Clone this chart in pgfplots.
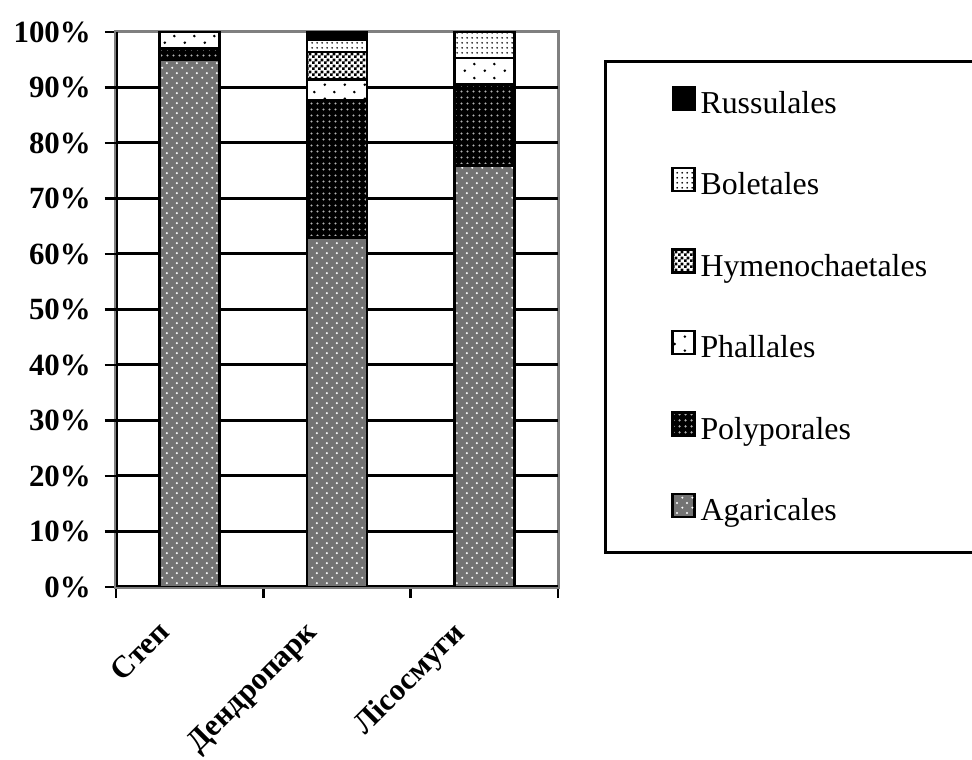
\documentclass[border=0pt]{standalone}
\usepackage{fontspec}
\setmainfont{Liberation Serif}
\usepackage{pgfplots}
\pgfplotsset{compat=1.18}
\usetikzlibrary{patterns}

\pgfdeclarepatternformonly{agdots}{\pgfqpoint{0bp}{0bp}}{\pgfqpoint{10bp}{10bp}}{\pgfqpoint{10bp}{10bp}}{%
  \pgfpathcircle{\pgfqpoint{2.5bp}{2.5bp}}{1.2bp}%
  \pgfpathcircle{\pgfqpoint{7.5bp}{7.5bp}}{1.2bp}%
  \pgfusepath{fill}}
\pgfdeclarepatternformonly{poldots}{\pgfqpoint{0bp}{0bp}}{\pgfqpoint{5.5bp}{5.5bp}}{\pgfqpoint{5.5bp}{5.5bp}}{%
  \pgfpathcircle{\pgfqpoint{2.75bp}{2.75bp}}{1.3bp}%
  \pgfusepath{fill}}
\pgfdeclarepatternformonly{phdots}{\pgfqpoint{0bp}{0bp}}{\pgfqpoint{20bp}{14bp}}{\pgfqpoint{20bp}{14bp}}{%
  \pgfpathcircle{\pgfqpoint{5bp}{3.5bp}}{1.5bp}%
  \pgfpathcircle{\pgfqpoint{15bp}{10.5bp}}{1.5bp}%
  \pgfusepath{fill}}
\pgfdeclarepatternformonly{hymcheck}{\pgfqpoint{0bp}{0bp}}{\pgfqpoint{6bp}{6bp}}{\pgfqpoint{6bp}{6bp}}{%
  \pgfpathrectangle{\pgfqpoint{0bp}{0bp}}{\pgfqpoint{3.05bp}{3.05bp}}%
  \pgfpathrectangle{\pgfqpoint{3bp}{3bp}}{\pgfqpoint{3.05bp}{3.05bp}}%
  \pgfusepath{fill}}
\pgfdeclarepatternformonly{boldots}{\pgfqpoint{0bp}{0bp}}{\pgfqpoint{5bp}{5bp}}{\pgfqpoint{5bp}{5bp}}{%
  \pgfpathcircle{\pgfqpoint{2.5bp}{2.5bp}}{1.1bp}%
  \pgfusepath{fill}}

\tikzset{
  agar/.style={draw=black, line width=2.8bp, preaction={fill=black!55}, pattern=agdots, pattern color=white},
  poly/.style={draw=black, line width=2.8bp, preaction={fill=black}, pattern=poldots, pattern color=black!30},
  phal/.style={draw=black, line width=2.8bp, preaction={fill=white}, pattern=phdots, pattern color=black},
  hyme/.style={draw=black, line width=2.8bp, preaction={fill=white}, pattern=hymcheck, pattern color=black},
  bole/.style={draw=black, line width=2.8bp, preaction={fill=white}, pattern=boldots, pattern color=black},
  russ/.style={draw=black, line width=2.8bp, fill=black},
}

\begin{document}
\begin{tikzpicture}
\useasboundingbox (0,0) rectangle (972bp,760bp);
\begin{axis}[
  at={(116bp,173bp)}, anchor=south west,
  scale only axis, width=442bp, height=555bp,
  ybar stacked, bar width=60bp,
  xmin=-0.5, xmax=2.5, ymin=0, ymax=100,
  xtick={0,1,2}, xticklabels={Степ,Дендропарк,Лісосмуги},
  minor xtick={-0.5,0.5,1.5,2.5},
  ytick={0,10,...,100},
  yticklabels={0\%,10\%,20\%,30\%,40\%,50\%,60\%,70\%,80\%,90\%,100\%},
  extra y ticks={10,20,...,90}, extra y tick labels={},
  extra y tick style={grid=major},
  major grid style={black, line width=3bp},
  tick align=outside, xtick pos=bottom, ytick pos=left,
  major x tick style={draw=none},
  minor x tick style={black, line width=2.5bp},
  y tick style={black, line width=2.5bp},
  major tick length=11bp, minor tick length=11bp,
  axis line style={draw=black!50, line width=3bp},
  ticklabel style={font=\fontsize{31}{37}\selectfont\bfseries},
  xticklabel style={xshift=-33bp, yshift=-21bp, rotate=45, anchor=north east, inner sep=0pt},
  yticklabel style={inner sep=0pt, xshift=-14bp},
  legend style={at={(axis description cs:1.1041,0.9495)}, anchor=north west,
    draw=black, line width=3bp, inner xsep=66bp, inner ysep=24bp,
    row sep=46bp, column sep=5bp,
    font=\fontsize{32}{38}\selectfont,
    nodes={inner sep=0pt, text height=26bp, text depth=8bp}},
  legend cell align=left, reverse legend,
  legend image code/.code={\draw[#1, line width=2bp] (0bp,-5.5bp) rectangle (22bp,17.5bp);},
]
\addplot[agar] coordinates {(0,95) (1,63) (2,76)};
\addplot[poly] coordinates {(0,2) (1,24.6) (2,14.5)};
\addplot[phal] coordinates {(0,3) (1,3.9) (2,4.8)};
\addplot[hyme] coordinates {(0,0) (1,4.9) (2,0)};
\addplot[bole] coordinates {(0,0) (1,2.2) (2,4.7)};
\addplot[russ] coordinates {(0,0) (1,1.4) (2,0)};
\legend{Agaricales,Polyporales,Phallales,Hymenochaetales,Boletales,Russulales}
\draw[black, line width=3bp] (rel axis cs:0,1) -- (rel axis cs:0,0) -- (rel axis cs:1,0);
\end{axis}
\end{tikzpicture}
\end{document}
